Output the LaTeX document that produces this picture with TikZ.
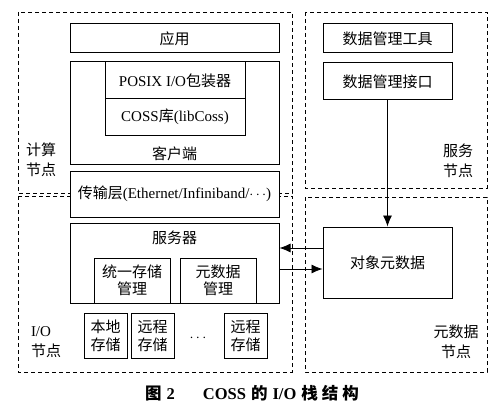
\documentclass[tikz,border=0pt]{standalone}
\usepackage{fontspec}
\setmainfont{Liberation Serif}
\newfontfamily\cjk{Noto Sans CJK SC}
\usetikzlibrary{arrows.meta,positioning}
\newcommand{\zh}[1]{{\cjk #1}}

\begin{document}
\begin{tikzpicture}[x=1pt,y=-1pt,
  blk/.style={draw, line width=1pt, fill=white, inner sep=0pt, align=center,
    font=\fontsize{15}{17}\selectfont},
  region/.style={draw, line width=0.9pt, dash pattern=on 4pt off 3pt},
  lbl/.style={inner sep=0pt, align=center, font=\fontsize{15}{20}\selectfont},
  arr/.style={-{Latex[length=11pt,width=9pt]}, line width=0.8pt}]

\useasboundingbox (0,0) rectangle (500,409);

% Dashed regions
\draw[region] (18,12) rectangle (292,193);
\draw[region] (18,196) rectangle (292,372);
\draw[region] (305,12) rectangle (487,188);
\draw[region] (305,197) rectangle (487,372);

\node[lbl]             (computelbl) at (41,160)  {\zh{计算}\\\zh{节点}};
\node[lbl, align=left] (iolbl)      at (46,342)  {I/O\\\zh{节点}};
\node[lbl]             (servicelbl) at (458,161) {\zh{服务}\\\zh{节点}};
\node[lbl]             (metalbl)    at (456,342) {\zh{元数据}\\\zh{节点}};

% Compute node
\node[blk, minimum width=209pt, minimum height=29pt]  (app)    at (174.5,38.5) {\zh{应用}};
\node[blk, minimum width=209pt, minimum height=102pt] (client) at (174.5,113) {};
\node[blk, minimum width=140pt, minimum height=37pt]  (posix)  at (175,80.5) {POSIX I/O\zh{包装器}};
\node[blk, minimum width=140pt, minimum height=36pt]  (coss)   at (175,117) {COSS\zh{库}(libCoss)};
\node[lbl]                                            (clientlbl) at (174.5,154) {\zh{客户端}};
\node[blk, minimum width=209pt, minimum height=46pt]  (trans)  at (174.5,194) {\zh{传输层}(Ethernet/Infiniband/$\cdots$)};

% I/O node
\node[blk, minimum width=209pt, minimum height=80pt]  (server) at (174.5,263) {};
\node[lbl]                                            (serverlbl) at (174.5,238) {\zh{服务器}};
\node[blk, minimum width=76pt, minimum height=45pt]   (usm)    at (132,280.5) {\zh{统一存储}\\\zh{管理}};
\node[blk, minimum width=76pt, minimum height=45pt]   (mdm)    at (218,280.5) {\zh{元数据}\\\zh{管理}};
\node[blk, minimum width=43pt, minimum height=45pt, font=\fontsize{15}{18}\selectfont] (local)   at (105.5,335.5) {\zh{本地}\\\zh{存储}};
\node[blk, minimum width=43pt, minimum height=45pt, font=\fontsize{15}{18}\selectfont] (remotea) at (152.5,335.5) {\zh{远程}\\\zh{存储}};
\node[lbl]                                            (dots)   at (198,338) {$\cdots$};
\node[blk, minimum width=43pt, minimum height=45pt, font=\fontsize{15}{18}\selectfont] (remoteb) at (245.5,335.5) {\zh{远程}\\\zh{存储}};

% Service and metadata nodes
\node[blk, minimum width=129pt, minimum height=29pt]  (tool)   at (387.5,38.5) {\zh{数据管理工具}};
\node[blk, minimum width=129pt, minimum height=37pt]  (api)    at (387.5,81.5) {\zh{数据管理接口}};
\node[blk, minimum width=129pt, minimum height=71pt]  (meta)   at (387.5,262.5) {\zh{对象元数据}};

% Connect the nodes
\coordinate (mout) at ([yshift=14.5pt]meta.west);
\coordinate (min)  at ([yshift=-6.5pt]meta.west);
\draw[arr] (api) -- (meta);
\draw[arr] (mout) -- (mout -| server.east);
\draw[arr] (min -| server.east) -- (min);

\node[font=\bfseries\fontsize{16.5}{18}\selectfont, inner sep=0pt] (caption) at (252,393)
  {\zh{图}\hspace{5pt}2\hspace{28pt}COSS\hspace{5pt}\zh{的}\hspace{5pt}I/O\hspace{5pt}\zh{栈}\hspace{4pt}\zh{结}\hspace{4pt}\zh{构}};

\end{tikzpicture}
\end{document}
